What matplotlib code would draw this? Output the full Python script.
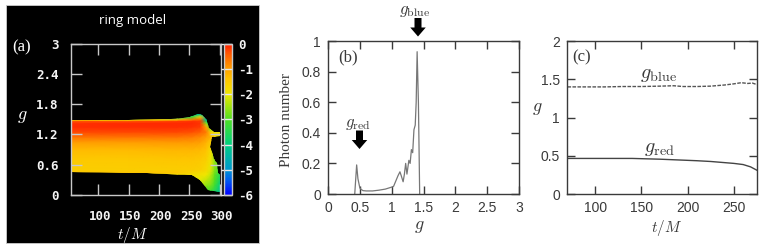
import numpy as np
import matplotlib
matplotlib.use("Agg")
import matplotlib.pyplot as plt
from matplotlib.colors import LinearSegmentedColormap
from matplotlib.patches import Polygon, Rectangle
from matplotlib.transforms import ScaledTranslation

plt.rcParams['axes.unicode_minus'] = False
plt.rcParams['mathtext.fontset'] = 'cm'
W, H = 763, 247
fig = plt.figure(figsize=(W/100, H/100), dpi=100, facecolor='white')

# ---------- data ----------
# panel (a)
heat_t = [55, 150, 230, 255, 268, 278, 285, 292, 301]
heat_g = [0.05, 0.1, 0.2, 0.3, 0.4, 0.45, 0.5, 0.7, 0.9, 1.05, 1.15, 1.25, 1.35, 1.42, 1.47, 1.49, 1.55, 1.6, 1.65]
heat_v = [
    [-2.0, -2.0, -2.0, -2.2, -2.6, -3.2, -3.4, -3.8, -4.4],
    [-2.0, -2.0, -2.0, -2.2, -2.6, -3.0, -3.1, -3.5, -4.2],
    [-2.0, -2.0, -2.0, -2.1, -2.3, -2.6, -2.7, -3.2, -4.0],
    [-2.0, -2.0, -2.0, -2.0, -2.1, -2.3, -2.5, -3.0, -3.8],
    [-1.8, -1.8, -1.8, -1.8, -1.9, -2.0, -2.3, -2.9, -3.6],
    [-1.45, -1.45, -1.45, -1.7, -1.8, -1.9, -2.2, -2.8, -3.4],
    [-1.55, -1.55, -1.55, -1.55, -1.6, -1.8, -2.1, -2.7, -3.2],
    [-1.5, -1.5, -1.45, -1.45, -1.5, -1.6, -1.9, -2.6, -3.0],
    [-1.3, -1.3, -1.25, -1.25, -1.3, -1.4, -1.8, -2.6, -3.0],
    [-0.98, -0.98, -0.95, -0.95, -1.0, -1.2, -1.5, -2.4, -2.8],
    [-0.62, -0.62, -0.62, -0.68, -0.8, -1.0, -1.2, -1.7, -1.9],
    [-0.3, -0.3, -0.3, -0.35, -0.45, -0.7, -1.6, -1.9, -1.9],
    [-0.14, -0.12, -0.12, -0.15, -0.22, -1.1, -2.8, -3.0, -3.0],
    [-0.15, -0.1, -0.1, -0.1, -0.18, -2.6, -4.0, -3.5, -3.5],
    [-0.4, -0.4, -0.25, -0.18, -0.22, -3.8, -4.5, -4.2, -4.2],
    [-1.9, -1.9, -1.3, -0.6, -0.4, -4.2, -4.5, -4.5, -4.5],
    [-4.0, -4.0, -3.8, -3.2, -1.6, -4.4, -4.5, -4.5, -4.5],
    [-4.5, -4.5, -4.4, -4.2, -4.2, -4.5, -4.5, -4.5, -4.5],
    [-4.5, -4.5, -4.5, -4.5, -4.5, -4.5, -4.5, -4.5, -4.5],
]
# outline of the filled region
outline_t = [55, 150, 220, 240, 252, 265, 271, 277, 282, 290, 301,
             301, 287, 284, 287, 290, 293, 295, 298, 301,
             301, 290, 281, 268, 254, 213, 180, 55]
outline_g = [1.484, 1.49, 1.5, 1.52, 1.54, 1.6, 1.58, 1.5, 1.32, 1.25, 1.24,
             1.17, 1.14, 0.96, 0.85, 0.72, 0.68, 0.63, 0.43, 0.40,
             0.06, 0.07, 0.09, 0.30, 0.40, 0.415, 0.43, 0.45]
a_xticks = [100, 150, 200, 250, 300]
a_yticks = [0, 0.6, 1.2, 1.8, 2.4, 3]
a_ylabels = ['0', '0.6', '1.2', '1.8', '2.4', '3']
cbar_ticks = [0, -1, -2, -3, -4, -5, -6]
cmap_levels = [-6, -5.4, -5, -4, -3, -2, -1.4, -1, -0.4, 0]
cmap_colors = ['#0000ff', '#0060f0', '#0098d0', '#00d080', '#50e020', '#f0e800',
               '#ffc400', '#ffa000', '#ff5a00', '#ff1a00']

# panel (b)
spec_g = [0.42, 0.45, 0.47, 0.5, 0.52, 0.55, 0.6, 0.7, 0.8, 0.9, 1.0, 1.03, 1.06, 1.1, 1.13,
          1.15, 1.18, 1.2, 1.22, 1.24, 1.27, 1.29, 1.31, 1.33, 1.35, 1.37, 1.385, 1.4, 1.42, 1.44]
spec_n = [0, 0.19, 0.10, 0.04, 0.03, 0.022, 0.02, 0.02, 0.025, 0.032, 0.045, 0.05, 0.08, 0.12, 0.145,
          0.12, 0.08, 0.13, 0.20, 0.13, 0.22, 0.20, 0.29, 0.27, 0.42, 0.45, 0.60, 0.93, 0.60, 0]
b_xticks = [0, 0.5, 1, 1.5, 2, 2.5, 3]
b_xlabels = ['0', '0.5', '1', '1.5', '2', '2.5', '3']
b_yticks = [0, 0.2, 0.4, 0.6, 0.8, 1]
b_ylabels = ['0', '0.2', '0.4', '0.6', '0.8', '1']

# panel (c)
blue_t = [70, 90, 110, 130, 150, 170, 185, 195, 210, 225, 240, 250, 258, 265, 270, 275]
blue_g = [1.40, 1.40, 1.40, 1.405, 1.405, 1.41, 1.415, 1.405, 1.405, 1.41, 1.425, 1.44, 1.455, 1.445, 1.45, 1.43]
red_t = [70, 100, 140, 170, 190, 210, 225, 240, 250, 260, 268, 275]
red_g = [0.465, 0.465, 0.465, 0.455, 0.445, 0.435, 0.425, 0.41, 0.40, 0.385, 0.355, 0.31]
c_xticks = [100, 150, 200, 250]
c_yticks = [0, 0.5, 1, 1.5, 2]
c_ylabels = ['0', '0.5', '1', '1.5', '2']


# ---------- helpers ----------
def axes_px(x0, y0, x1, y1):
    return fig.add_axes([x0/W, 1-y1/H, (x1-x0)/W, (y1-y0)/H])

def ftext(x, y, s, **kw):
    kw.setdefault('ha', 'center')
    kw.setdefault('va', 'center')
    return fig.text(x/W, 1-y/H, s, **kw)

def down_arrow(xc, y0, y1, shaft=7, head=15.5, head_len=9):
    pts = [(xc-shaft/2, y0), (xc+shaft/2, y0), (xc+shaft/2, y1-head_len), (xc+head/2, y1-head_len),
           (xc, y1), (xc-head/2, y1-head_len), (xc-shaft/2, y1-head_len)]
    fig.add_artist(Polygon([(x/W, 1-y/H) for x, y in pts], closed=True, transform=fig.transFigure,
                           facecolor='black', edgecolor='none'))

DARK = '#3a3a3a'

# ---------- panel (a) ----------
fig.add_artist(Rectangle((6/W, 1-243/H), 253/W, 238/H, transform=fig.transFigure,
                         facecolor='black', edgecolor='#cccccc', lw=0.6, zorder=-5))
cmap = LinearSegmentedColormap.from_list(
    'ring', [((l+6)/6, c) for l, c in zip(cmap_levels, cmap_colors)], N=256)
ax = axes_px(71, 43.5, 220.5, 195)
ax.set_facecolor('black')
mesh = ax.pcolormesh(heat_t, heat_g, np.array(heat_v), cmap=cmap, vmin=-6, vmax=0, shading='gouraud')
clip = Polygon(np.column_stack([outline_t, outline_g]), closed=True, transform=ax.transData,
               facecolor='none', edgecolor='none')
ax.add_patch(clip)
mesh.set_clip_path(clip)
ax.set_xlim(55, 301.5)
ax.set_ylim(0, 3)
ax.set_xticks(a_xticks)
ax.set_yticks(a_yticks, a_ylabels)
ax.tick_params(top=True, right=True, direction='in', length=8, width=1, color='#c8c8c8', colors='white',
               labelsize=9, pad=11)
ax.tick_params(axis='y', pad=9)
shift = ScaledTranslation(2/100, 0, fig.dpi_scale_trans)
for t in ax.get_xticklabels():
    t.set_transform(t.get_transform() + shift)
for t in ax.get_xticklabels() + ax.get_yticklabels():
    t.set_family('DejaVu Sans Mono')
    t.set_weight('bold')
    t.set_color('#f4f4f4')
for s in ax.spines.values():
    s.set_color('#c8c8c8')
    s.set_linewidth(1)
    s.set_zorder(5)

cax = axes_px(223.5, 43.5, 231.5, 195)
cb = fig.colorbar(mesh, cax=cax, ticks=cbar_ticks)
cb.ax.tick_params(direction='in', length=8, width=1, color='#e8e8e8', colors='white', labelsize=9, pad=4.5)
cb.outline.set_edgecolor('#c8c8c8')
cb.outline.set_linewidth(1)
cb.ax.set_yticks(cbar_ticks, [str(v) for v in cbar_ticks])
for t in cb.ax.get_yticklabels():
    t.set_family('DejaVu Sans Mono')
    t.set_weight('bold')
    t.set_color('#f4f4f4')

ftext(133, 20.5, 'ring model', color='white', fontsize=9.5, family='Open Sans')
ftext(22, 47, '(a)', color='white', fontsize=12, family='Liberation Serif')
ftext(22, 116, r'$g$', color='white', fontsize=13)
ftext(133, 235, r'$t/M$', color='white', fontsize=11)


# ---------- panels (b), (c) ----------
def style(a):
    a.tick_params(top=True, right=True, direction='in', length=5.5, width=1, color=DARK,
                  labelcolor=DARK, labelsize=10, pad=5)
    for t in a.get_xticklabels() + a.get_yticklabels():
        t.set_family('Liberation Sans')
    for s in a.spines.values():
        s.set_color(DARK)
        s.set_linewidth(1)

bx = axes_px(328, 41, 519, 194)
bx.plot(spec_g, spec_n, color='#777777', lw=0.9)
bx.set_xlim(0, 3)
bx.set_ylim(0, 1)
bx.set_xticks(b_xticks, b_xlabels)
bx.set_yticks(b_yticks, b_ylabels)
style(bx)

cx = axes_px(567, 41, 757, 194)
cx.plot(blue_t, blue_g, color='#555555', lw=1.0, dashes=(2.6, 1.0))
cx.plot(red_t, red_g, color='#444444', lw=1.0)
cx.set_xlim(69.5, 275)
cx.set_ylim(0, 2)
cx.set_xticks(c_xticks)
cx.set_yticks(c_yticks, c_ylabels)
style(cx)

ftext(287, 120, 'Photon number', rotation=90, color=DARK, fontsize=11, family='Liberation Serif')
ftext(348.5, 57, '(b)', color=DARK, fontsize=12, family='Liberation Serif')
ftext(582, 57, '(c)', color=DARK, fontsize=12, family='Liberation Serif')
ftext(419, 226, r'$g$', color=DARK, fontsize=13)
ftext(667, 228, r'$t/M$', color=DARK, fontsize=11)
ftext(537, 108, r'$g$', color=DARK, fontsize=13)
ftext(415, 10, r'$g_{\rm blue}$', color=DARK, fontsize=12)
ftext(357.5, 123, r'$g_{\rm red}$', color=DARK, fontsize=12)
ftext(659, 74, r'$g_{\rm blue}$', color=DARK, fontsize=14.5)
ftext(659, 148, r'$g_{\rm red}$', color=DARK, fontsize=14.5)

down_arrow(418, 18, 36.5)
down_arrow(359.5, 130.5, 149)

fig.savefig('out.png', dpi=100, facecolor='white')
